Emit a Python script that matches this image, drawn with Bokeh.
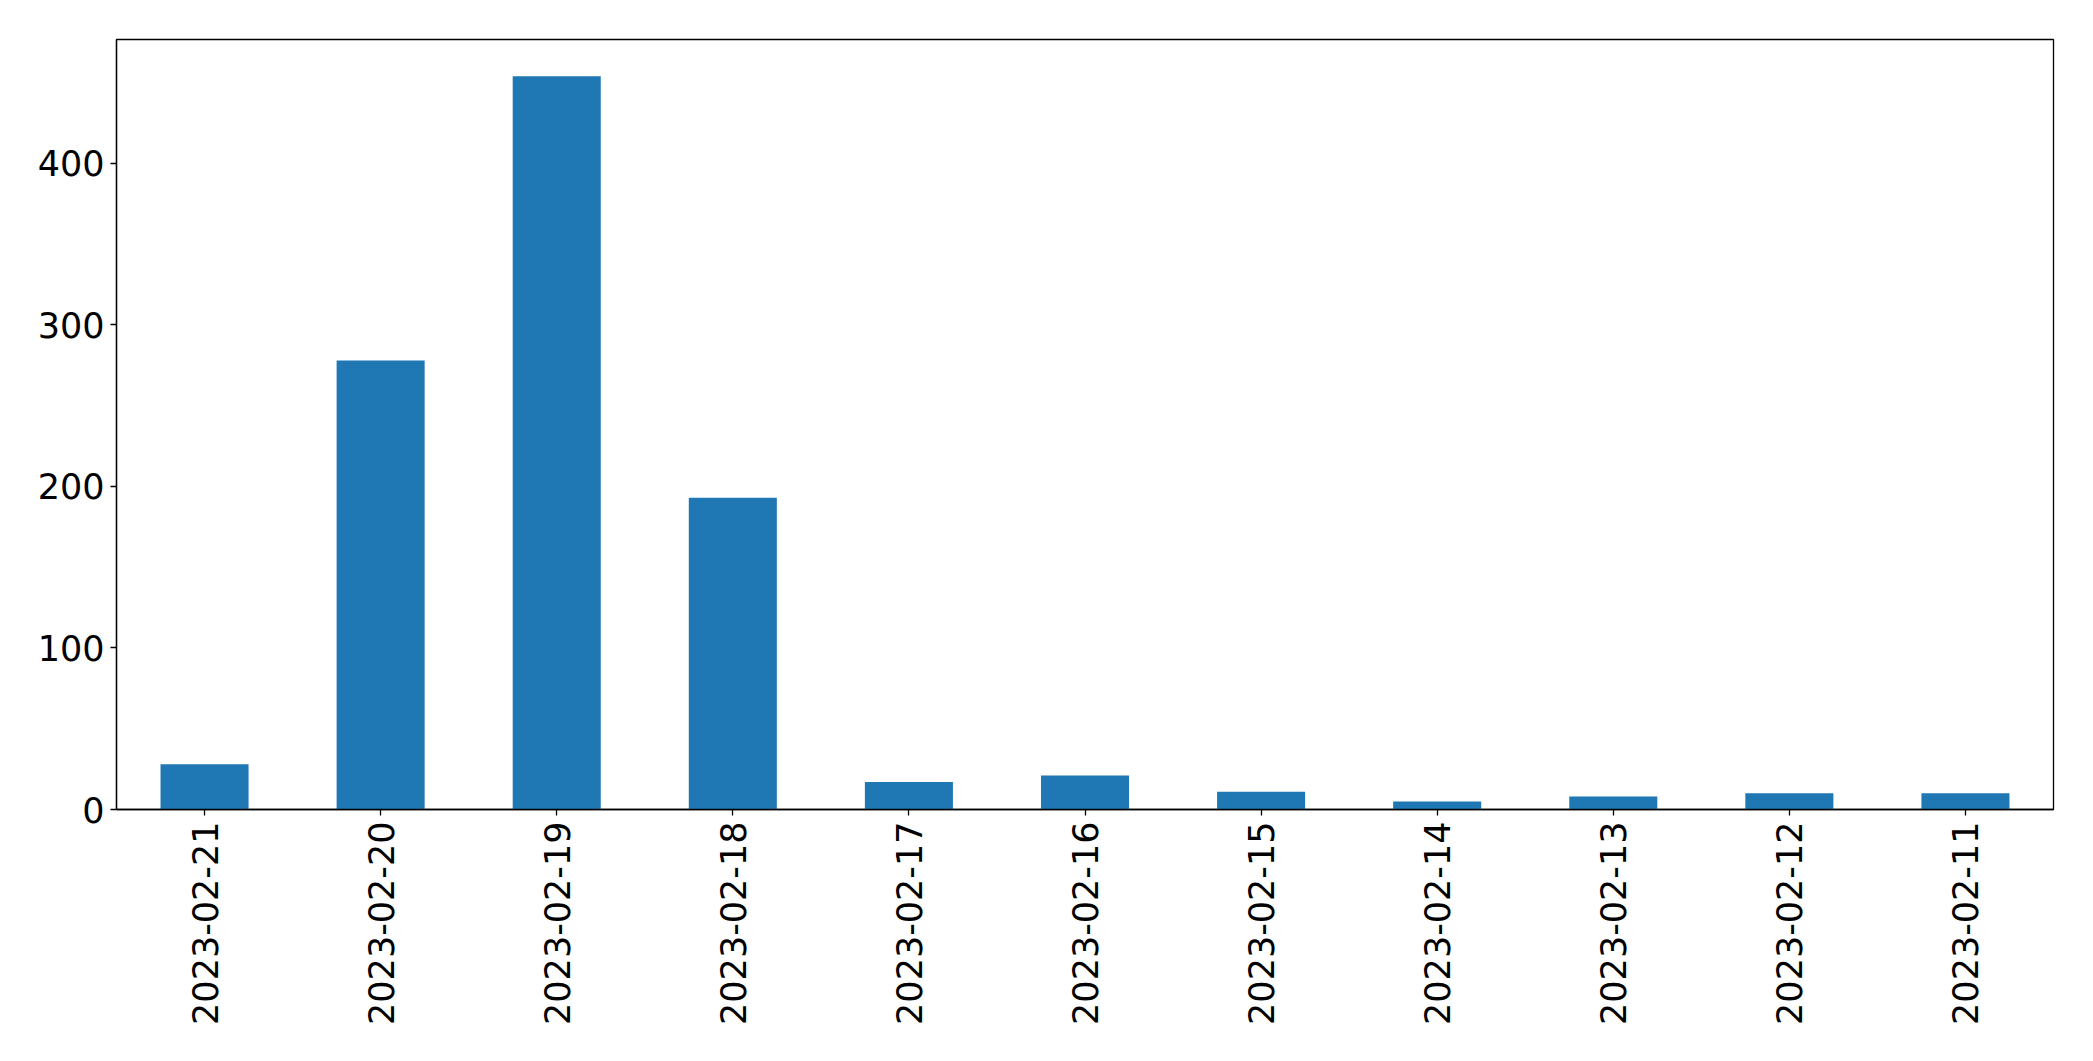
import math
from bokeh.plotting import figure
from bokeh.models import FactorRange, Range1d, FixedTicker, ColumnDataSource
from bokeh.embed import file_html
from bokeh.resources import INLINE

dates = ["2023-02-21", "2023-02-20", "2023-02-19", "2023-02-18", "2023-02-17",
         "2023-02-16", "2023-02-15", "2023-02-14", "2023-02-13", "2023-02-12",
         "2023-02-11"]
counts = [28, 278, 454, 193, 17, 21, 11, 5, 8, 10, 10]
y_ticks = [0, 100, 200, 300, 400]

src = ColumnDataSource(dict(x=dates, top=counts))

p = figure(width=2077, height=1045, output_backend="svg", toolbar_location=None,
           x_range=FactorRange(*dates, range_padding=0),
           y_range=Range1d(0, max(counts) * 1.05),
           min_border_left=116, min_border_right=24, min_border_top=39,
           min_border_bottom=236)
p.vbar(x="x", top="top", width=0.5, source=src, color="#1f77b4", line_color=None)

p.xgrid.visible = False
p.ygrid.visible = False
p.outline_line_color = "black"
p.outline_line_width = 1.3

for ax in (p.xaxis, p.yaxis):
    ax.major_label_text_font = "DejaVu Sans"
    ax.major_label_text_font_size = "35px"
    ax.major_label_text_color = "black"
    ax.axis_line_color = "black"
    ax.axis_line_width = 1.3
    ax.major_tick_line_color = "black"
    ax.major_tick_line_width = 1.3
    ax.major_tick_out = 6
    ax.major_tick_in = 0
    ax.minor_tick_line_color = None
    ax.major_label_standoff = 6

p.yaxis.ticker = FixedTicker(ticks=y_ticks)
p.xaxis.major_label_orientation = math.pi / 2

open("out.html", "w").write(file_html(p, INLINE))
